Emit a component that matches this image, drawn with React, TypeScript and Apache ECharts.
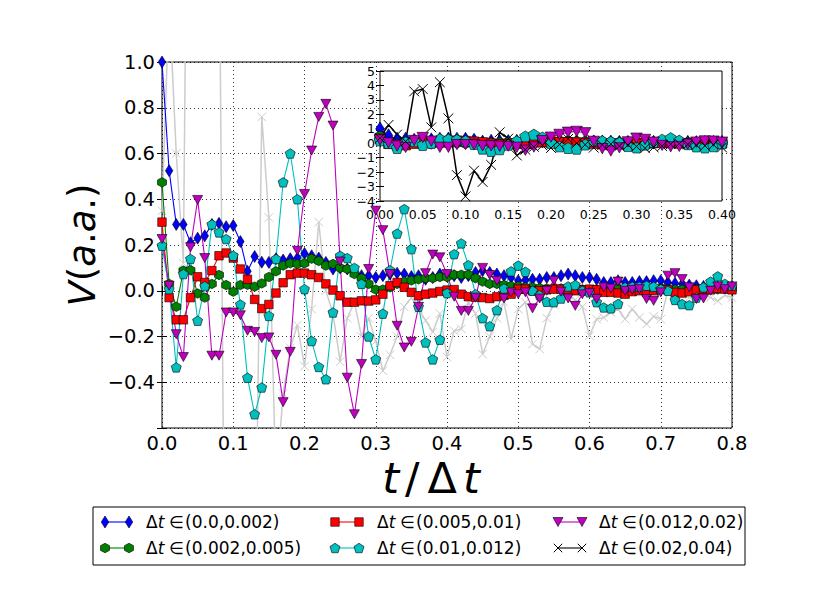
import React, { useEffect, useRef } from 'react';
import * as echarts from 'echarts';

// sample times t/Δt
const times = [
  0.0, 0.01, 0.02, 0.03, 0.04, 0.05, 0.06, 0.07, 0.08, 0.09,
  0.1, 0.11, 0.12, 0.13, 0.14, 0.15, 0.16, 0.17, 0.18, 0.19,
  0.2, 0.21, 0.22, 0.23, 0.24, 0.25, 0.26, 0.27, 0.28, 0.29,
  0.3, 0.31, 0.32, 0.33, 0.34, 0.35, 0.36, 0.37, 0.38, 0.39,
  0.4, 0.41, 0.42, 0.43, 0.44, 0.45, 0.46, 0.47, 0.48, 0.49,
  0.5, 0.51, 0.52, 0.53, 0.54, 0.55, 0.56, 0.57, 0.58, 0.59,
  0.6, 0.61, 0.62, 0.63, 0.64, 0.65, 0.66, 0.67, 0.68, 0.69,
  0.7, 0.71, 0.72, 0.73, 0.74, 0.75, 0.76, 0.77, 0.78, 0.79,
  0.8,
];

const seriesLabels = ['(0.0,0.002)', '(0.002,0.005)', '(0.005,0.01)', '(0.01,0.012)', '(0.012,0.02)', '(0.02,0.04)'];

const vBlue = [
  1.0, 0.525, 0.29, 0.29, 0.21, 0.23, 0.24, 0.29, 0.295, 0.28,
  0.285, 0.215, 0.085, 0.15, 0.125, 0.124, 0.14, 0.134, 0.14, 0.143,
  0.163, 0.153, 0.143, 0.124, 0.095, 0.1, 0.095, 0.088, 0.066, 0.066,
  0.058, 0.066, 0.073, 0.077, 0.073, 0.062, 0.066, 0.05, 0.058, 0.073,
  0.066, 0.066, 0.058, 0.066, 0.08, 0.088, 0.08, 0.073, 0.066, 0.058,
  0.044, 0.047, 0.05, 0.05, 0.058, 0.058, 0.066, 0.073, 0.066, 0.058,
  0.058, 0.05, 0.036, 0.036, 0.044, 0.036, 0.036, 0.04, 0.04, 0.044,
  0.044, 0.036, 0.033, 0.029, 0.025, 0.022, 0.019, 0.019, 0.017, 0.015,
  0.017,
];

const vGreen = [
  0.474, 0.03, -0.07, 0.088, 0.09, -0.012, -0.03, 0.03, 0.069, 0.025,
  -0.004, 0.025, 0.026, 0.018, 0.032, 0.06, 0.085, 0.11, 0.12, 0.117,
  0.12, 0.14, 0.13, 0.11, 0.117, 0.1, 0.095, 0.073, 0.055, 0.03,
  0.005, 0.005, 0.015, 0.03, 0.04, 0.045, 0.05, 0.055, 0.055, 0.06,
  0.06, 0.07, 0.07, 0.07, 0.055, 0.04, 0.03, 0.03, 0.025, 0.02,
  0.02, 0.015, 0.015, 0.012, 0.01, 0.01, 0.01, 0.008, 0.008, 0.006,
  0.005, 0.006, 0.008, 0.01, 0.008, 0.006, 0.005, 0.008, 0.01, 0.012,
  0.01, 0.008, 0.006, 0.005, 0.006, 0.008, 0.006, 0.005, 0.006, 0.008,
  0.007,
];

const vRed = [
  0.3, -0.03, -0.127, -0.127, -0.03, 0.061, 0.036, 0.088, 0.153, 0.165,
  0.143, 0.095, 0.05, -0.038, -0.078, -0.06, -0.01, 0.035, 0.07, 0.077,
  0.077, 0.07, 0.058, 0.03, 0.003, -0.022, -0.05, -0.05, -0.044, -0.045,
  -0.04, -0.015, 0.022, 0.036, 0.015, -0.007, -0.022, -0.015, -0.01, -0.003,
  0.003, 0.005, -0.015, -0.026, -0.028, -0.03, -0.034, -0.026, -0.02, -0.015,
  0.007, 0.007, 0.0, 0.0, 0.004, 0.007, 0.007, 0.007, 0.0, 0.004,
  0.007, 0.004, -0.007, -0.007, -0.01, -0.015, -0.004, 0.0, -0.007, 0.0,
  0.007, 0.004, -0.007, -0.01, -0.004, 0.004, 0.007, 0.004, 0.01, 0.007,
  0.004,
];

const vCyan = [
  0.197, 0.007, -0.335, 0.073, 0.139, -0.131, 0.02, 0.29, 0.255, 0.226,
  0.153, -0.06, -0.38, -0.54, -0.423, -0.11, 0.139, 0.474, 0.6, 0.4,
  0.007, -0.22, -0.333, -0.387, -0.095, 0.153, 0.143, 0.1, 0.03, -0.2,
  -0.3, -0.1, 0.09, 0.25, 0.357, 0.182, -0.07, -0.226, -0.3, -0.214,
  -0.01, 0.16, 0.207, 0.112, -0.015, -0.12, -0.155, -0.085, 0.01, 0.085,
  0.11, 0.083, 0.0, -0.02, -0.048, -0.05, -0.034, 0.019, 0.025, 0.0,
  -0.007, -0.05, -0.073, -0.077, -0.058, 0.015, 0.018, 0.018, 0.022, 0.018,
  0.007, 0.0, -0.04, -0.058, -0.063, -0.03, 0.015, 0.04, 0.063, 0.03,
  0.022,
];

const vMagenta = [
  0.226, 0.022, -0.19, -0.29, 0.19, 0.397, 0.143, -0.284, -0.284, -0.095,
  -0.095, -0.107, -0.175, -0.18, -0.207, -0.204, -0.28, -0.487, -0.267, 0.175,
  0.423, 0.613, 0.76, 0.817, 0.722, 0.128, -0.38, -0.54, -0.32, 0.095,
  0.35, 0.265, 0.073, -0.153, -0.248, -0.223, -0.07, 0.077, 0.158, 0.146,
  0.073, -0.026, -0.088, -0.088, -0.03, 0.1, 0.069, 0.044, -0.034, -0.007,
  -0.015, -0.007, -0.077, -0.034, 0.0, 0.044, -0.004, -0.034, -0.066, -0.015,
  -0.01, -0.036, 0.015, 0.01, 0.04, 0.0, 0.004, 0.007, -0.036, -0.044,
  -0.007, 0.066, 0.077, 0.051, 0.015, -0.036, -0.034, 0.0, 0.019, 0.007,
  0.019,
];

const vBlack = [
  0.35, 1.27, 0.6, 0.12, 3.59, 3.75, 1.1, 4.22, 1.72, -2.21,
  -3.68, -1.9, -2.68, -1.5, 0.76, 0.32, -0.85, -0.45, -0.25, -0.15,
  -0.33, -0.08, 0.3, 0.0, -0.1, -0.31, -0.12, -0.05, -0.2, -0.12,
  -0.22, -0.35, -0.28, -0.2, -0.07, -0.03, -0.08, -0.13, -0.18, -0.1,
  -0.29, -0.175, -0.167, -0.05, -0.1, -0.277, -0.2, -0.12, -0.05, -0.21,
  -0.08, -0.05, -0.233, -0.255, -0.12, -0.06, -0.04, -0.02, -0.04, -0.07,
  -0.197, -0.124, -0.117, -0.095, -0.08, -0.124, -0.08, -0.117, -0.146, -0.112,
  -0.124, 0.0, -0.01, -0.02, -0.03, -0.01, -0.02, -0.03, -0.044, -0.02,
  -0.03,
];

const mainXTicks = { min: 0, max: 0.8, step: 0.1 };
const mainYTicks = { min: -0.6, max: 1.0, step: 0.2 };
const insetXTicks = { min: 0, max: 0.4, step: 0.05 };
const insetYTicks = { min: -4, max: 5, step: 1 };

// unit shapes normalised to [-1,1] box
const SHAPES: Record<string, number[][]> = {
  diamond: [[0, -1], [1, 0], [0, 1], [-1, 0]],
  hexagon: [[0, -1], [1, -0.5], [1, 0.5], [0, 1], [-1, 0.5], [-1, -0.5]],
  square: [[-1, -1], [1, -1], [1, 1], [-1, 1]],
  pentagon: [[0, -1], [1, -0.317], [0.618, 1], [-0.618, 1], [-1, -0.317]],
  triDown: [[-1, -1], [1, -1], [0, 1]],
};
const shapePath = (k: string) =>
  'path://' + SHAPES[k].map((p, i) => (i === 0 ? 'M' : 'L') + p[0] + ',' + p[1]).join(' ') + ' Z';
const X_PATH = 'path://M-1,-1 L1,1 M1,-1 L-1,1';

const STYLES = [
  { color: '#0000ff', shape: 'diamond', size: [7.5, 12] },
  { color: '#008000', shape: 'hexagon', size: [9, 9.5] },
  { color: '#ff0000', shape: 'square', size: [8.5, 8.5] },
  { color: '#00bfbf', shape: 'pentagon', size: [10, 9.5] },
  { color: '#bf00bf', shape: 'triDown', size: [10, 9] },
  { color: '#000000', shape: 'x', size: [8.5, 8.5] },
];

const FONT = 'DejaVu Sans';
const MINUS = (s: string) => s.replace('-', '\u2212');

function makeSeries(vals: number[], idx: number, axisIdx: number, override?: { color: string; width: number; z: number }) {
  const st = STYLES[idx];
  const color = override ? override.color : st.color;
  const isX = st.shape === 'x';
  const k = axisIdx ? 1.15 : 1;
  return {
    type: 'line',
    name: seriesLabels[idx] + (axisIdx ? '-inset' : ''),
    xAxisIndex: axisIdx,
    yAxisIndex: axisIdx,
    data: times.map((t, i) => [t, vals[i]]),
    symbol: isX ? X_PATH : shapePath(st.shape),
    symbolSize: [st.size[0] * k, st.size[1] * k],
    showSymbol: true,
    clip: true,
    z: override ? override.z : axisIdx ? 30 : 3,
    lineStyle: { color, width: override ? override.width : isX ? 1.5 : 1.1 },
    itemStyle: isX
      ? { color: 'rgba(0,0,0,0)', borderColor: color, borderWidth: 1 }
      : { color, borderColor: '#000', borderWidth: 0.6 },
    emphasis: { disabled: true },
    silent: true,
  };
}

function axisPair(kind: 'x' | 'y', gridIndex: number, ticks: any, labelFmt: (v: number) => string, fontSize: number, margin: number, z: number, splitLine: boolean, tickLen: number) {
  const base = {
    gridIndex,
    type: 'value',
    min: ticks.min,
    max: ticks.max,
    interval: ticks.step,
    z,
    axisLine: { show: false },
    axisTick: { show: true, inside: true, length: tickLen, lineStyle: { color: '#000', width: 1 } },
  };
  const first = {
    ...base,
    position: kind === 'x' ? 'bottom' : 'left',
    axisLabel: { show: true, formatter: labelFmt, fontFamily: FONT, fontSize, color: '#000', margin, showMinLabel: true, showMaxLabel: true },
    splitLine: { show: splitLine, lineStyle: { color: '#000', width: 0.8, type: [1, 3] } },
  };
  const second = {
    ...base,
    position: kind === 'x' ? 'top' : 'right',
    axisLabel: { show: false },
    splitLine: { show: false },
  };
  return [first, second];
}

function legendGraphics() {
  const els: any[] = [];
  els.push({ type: 'rect', shape: { x: 93, y: 507, width: 652, height: 58 }, style: { fill: '#fff', stroke: '#000', lineWidth: 1 }, z: 100 });
  const markerX = [105, 335, 558];
  const textX = [146, 377, 599];
  const rowY = [522, 548];
  seriesLabels.forEach((lab, i) => {
    const col = Math.floor(i / 2);
    const row = i % 2;
    const st = STYLES[i];
    const y = rowY[row];
    const x1 = markerX[col];
    const x2 = x1 + 24;
    els.push({ type: 'line', shape: { x1, y1: y, x2, y2: y }, style: { stroke: st.color, lineWidth: 1.1 }, z: 101 });
    [x1, x2].forEach((cx) => {
      const w = st.size[0] / 2;
      const h = st.size[1] / 2;
      if (st.shape === 'x') {
        els.push({ type: 'line', shape: { x1: cx - w, y1: y - h, x2: cx + w, y2: y + h }, style: { stroke: '#000', lineWidth: 1 }, z: 102 });
        els.push({ type: 'line', shape: { x1: cx + w, y1: y - h, x2: cx - w, y2: y + h }, style: { stroke: '#000', lineWidth: 1 }, z: 102 });
      } else {
        els.push({
          type: 'polygon',
          shape: { points: SHAPES[st.shape].map((p) => [cx + p[0] * w, y + p[1] * h]) },
          style: { fill: st.color, stroke: '#000', lineWidth: 0.6 },
          z: 102,
        });
      }
    });
    els.push({
      type: 'text',
      x: textX[col],
      y,
      z: 102,
      style: {
        text: '{r|\u0394}{i|t}{s|\u2208}{r|' + lab + '}',
        verticalAlign: 'middle',
        align: 'left',
        rich: {
          r: { fontFamily: FONT, fontSize: 17, fill: '#000' },
          s: { fontFamily: FONT, fontSize: 17, fill: '#000', padding: [0, 1, 0, 5] },
          i: { fontFamily: FONT, fontSize: 17, fontStyle: 'italic', fill: '#000' },
        },
      },
    });
  });
  return els;
}

export default function App() {
  const ref = useRef<HTMLDivElement>(null);
  useEffect(() => {
    if (!ref.current) return;
    const chart = echarts.init(ref.current, null, { renderer: 'svg' });
    const all = [vBlue, vGreen, vRed, vCyan, vMagenta, vBlack];

    const [mx0, mx1] = axisPair('x', 0, mainXTicks, (v) => v.toFixed(1), 19.5, 5, 1, true, 5);
    const [my0, my1] = axisPair('y', 0, mainYTicks, (v) => (v < -0.55 ? '' : MINUS(v.toFixed(1))), 19.5, 7, 1, true, 5);
    const [ix0, ix1] = axisPair('x', 1, insetXTicks, (v) => v.toFixed(2), 12.5, 7, 25, false, 4);
    const [iy0, iy1] = axisPair('y', 1, insetYTicks, (v) => MINUS(String(Math.round(v))), 12.5, 5, 25, false, 4);

    const mainSeries = [
      makeSeries(vBlack, 5, 0, { color: '#cccccc', width: 1.5, z: 2 }),
      ...[0, 1, 2, 3, 4].map((i) => makeSeries(all[i], i, 0)),
    ];
    const insetSeries = [0, 1, 2, 3, 4, 5].map((i) => makeSeries(all[i], i, 1));
    insetSeries.forEach((s: any) => {
      s.xAxisIndex = 2;
      s.yAxisIndex = 2;
    });

    const option: any = {
      animation: false,
      backgroundColor: '#fff',
      textStyle: { fontFamily: FONT },
      grid: [
        { left: 162, top: 62, width: 570, height: 366, show: true, borderColor: '#000', borderWidth: 1, backgroundColor: 'rgba(0,0,0,0)', z: 0 },
        { left: 380, top: 71, width: 342, height: 130, show: true, borderColor: '#000', borderWidth: 1, backgroundColor: '#fff', z: 20 },
      ],
      xAxis: [mx0, mx1, ix0, ix1],
      yAxis: [my0, my1, iy0, iy1],
      series: [...mainSeries, ...insetSeries],
      graphic: [
        {
          type: 'text',
          x: 431,
          y: 478,
          z: 50,
          style: {
            text: '{i|t}{s|/}{r|\u0394}{i|t}',
            align: 'center',
            verticalAlign: 'middle',
            rich: {
              r: { fontFamily: FONT, fontSize: 43, lineHeight: 32, fill: '#000', padding: [0, 6, 0, 0] },
              s: { fontFamily: FONT, fontSize: 43, lineHeight: 32, fill: '#000', padding: [0, 8, 0, 6] },
              i: { fontFamily: FONT, fontSize: 43, lineHeight: 32, fontStyle: 'italic', fill: '#000' },
            },
          },
        },
        {
          type: 'text',
          x: 82,
          y: 245,
          rotation: Math.PI / 2,
          z: 50,
          style: {
            text: '{i|V}{r|(}{i|a}{r|.}{i|a}{r|.)}',
            align: 'center',
            verticalAlign: 'middle',
            rich: {
              r: { fontFamily: FONT, fontSize: 37, fill: '#000' },
              i: { fontFamily: FONT, fontSize: 37, fontStyle: 'italic', fill: '#000' },
            },
          },
        },
        ...legendGraphics(),
      ],
    };
    chart.setOption(option);
    return () => chart.dispose();
  }, []);
  return <div ref={ref} style={{ position: 'fixed', left: 0, top: 0, width: 813, height: 613, background: '#fff' }} />;
}
